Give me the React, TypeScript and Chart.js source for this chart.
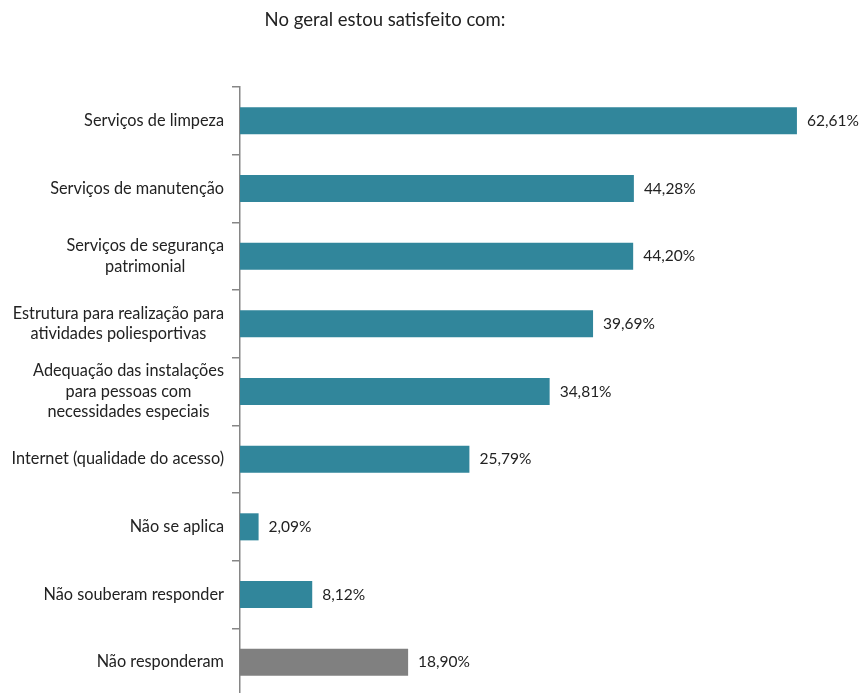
import React, { useEffect, useRef } from "react";
import { Chart, registerables } from "chart.js";

Chart.register(...registerables);

const title = "No geral estou satisfeito com:";
const categories: string[][] = [
  ["Serviços de limpeza"],
  ["Serviços de manutenção"],
  ["Serviços de segurança", "patrimonial"],
  ["Estrutura para realização para", "atividades poliesportivas"],
  ["Adequação das instalações", "para pessoas com", "necessidades especiais"],
  ["Internet (qualidade do acesso)"],
  ["Não se aplica"],
  ["Não souberam responder"],
  ["Não responderam"],
];
const values = [62.61, 44.28, 44.2, 39.69, 34.81, 25.79, 2.09, 8.12, 18.9];
const valueLabels = ["62,61%", "44,28%", "44,20%", "39,69%", "34,81%", "25,79%", "2,09%", "8,12%", "18,90%"];

const TEAL = "#31869B";
const GRAY = "#808080";
const FONT = "Lato";

const customPlugin = {
  id: "custom",
  afterDraw(chart: any) {
    const ctx = chart.ctx;
    const y = chart.scales.y;
    const x = chart.scales.x;
    ctx.save();
    // title
    ctx.font = `18.5px ${FONT}`;
    ctx.fillStyle = "#222";
    ctx.textAlign = "center";
    ctx.textBaseline = "middle";
    ctx.fillText(title, 385, 20);
    // category labels
    ctx.font = `16.3px ${FONT}`;
    const lineH = 20.5;
    const rightEdge = 224;
    categories.forEach((lines, i) => {
      const cy = y.getPixelForValue(i);
      let w = 0;
      lines.forEach((l) => (w = Math.max(w, ctx.measureText(l).width)));
      const cx = rightEdge - w / 2;
      lines.forEach((l, j) => {
        const ly = cy + (j - (lines.length - 1) / 2) * lineH;
        ctx.fillText(l, cx, ly);
      });
    });
    // value labels
    ctx.font = `15.5px ${FONT}`;
    ctx.textAlign = "left";
    values.forEach((v, i) => {
      ctx.fillText(valueLabels[i], x.getPixelForValue(v) + 10, y.getPixelForValue(i));
    });
    ctx.restore();
  },
};

export default function App() {
  const ref = useRef<HTMLCanvasElement>(null);
  useEffect(() => {
    if (!ref.current) return;
    const chart = new Chart(ref.current, {
      type: "bar",
      data: {
        labels: categories.map((c) => c.join(" ")),
        datasets: [
          {
            data: values,
            backgroundColor: values.map((_, i) => (i === values.length - 1 ? GRAY : TEAL)),
            categoryPercentage: 1,
            barPercentage: 0.4,
          },
        ],
      },
      options: {
        indexAxis: "y",
        animation: false,
        responsive: false,
        layout: { padding: { left: 232, top: 87, bottom: 14, right: 0 } },
        plugins: { legend: { display: false }, tooltip: { enabled: false }, title: { display: false } },
        scales: {
          x: { display: false, min: 0, max: 69.7 },
          y: {
            grid: {
              offset: true,
              drawOnChartArea: false,
              drawTicks: true,
              tickLength: 8,
              color: "#868686",
              lineWidth: 1.5,
            },
            border: { color: "#868686", width: 1.5 },
            ticks: { display: false },
          },
        },
      },
      plugins: [customPlugin],
    });
    return () => chart.destroy();
  }, []);
  return (
    <div style={{ position: "absolute", left: 0, top: 0, width: 860, height: 710, background: "#fff" }}>
      <canvas ref={ref} width={860} height={710} style={{ display: "block" }} />
    </div>
  );
}
